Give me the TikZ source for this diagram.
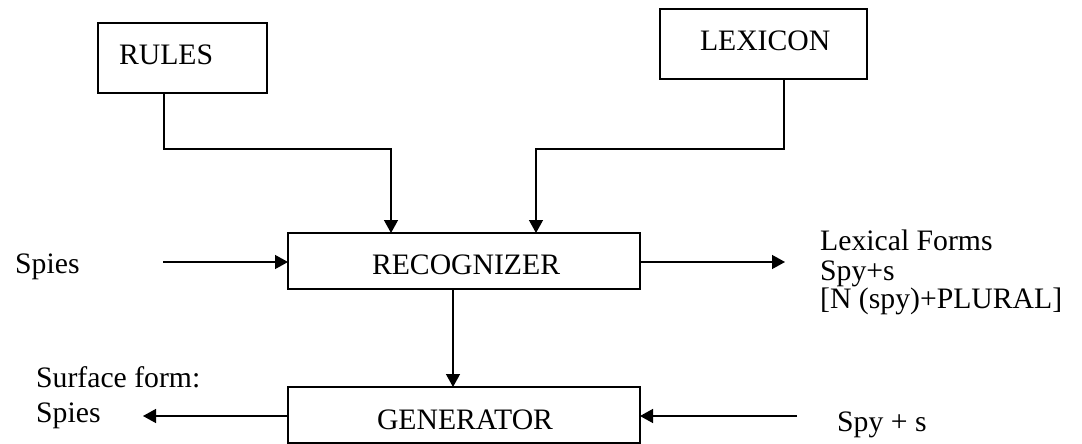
\documentclass[tikz,border=0pt]{standalone}
\usepackage{fontspec}
\setmainfont{Liberation Serif}
\usetikzlibrary{arrows.meta}
% keep baselines at exactly the chosen spacing
\lineskiplimit=-100pt
\begin{document}
\begin{tikzpicture}[x=1pt,y=-1pt,
  blk/.style={draw, line width=1.8pt, anchor=north west, outer sep=0pt,
    align=left, inner ysep=0pt, font=\fontsize{29.7}{32}\selectfont},
  lbl/.style={inner sep=0pt, align=left, anchor=base west},
  arr/.style={line width=1.4pt, -{Triangle[length=13pt,width=14pt]}},
]
\useasboundingbox (0,0) rectangle (1082,444);

% processing blocks
\node[blk, minimum width=169pt, minimum height=70pt, inner xsep=21pt,
  text width=127pt, text height=20pt, text depth=6pt] (rules) at (98,23) {RULES};
\node[blk, minimum width=207pt, minimum height=70pt, inner xsep=40pt,
  text width=127pt, text height=20pt, text depth=6pt] (lex) at (660,9) {LEXICON};
\node[blk, minimum width=352pt, minimum height=56pt, inner xsep=84pt,
  text width=184pt, text height=26pt, text depth=0pt] (rec) at (288,233) {RECOGNIZER};
\node[blk, minimum width=352pt, minimum height=56pt, inner xsep=89pt,
  text width=174pt, text height=28pt, text depth=0pt] (gen) at (288,387) {GENERATOR};

% inputs and outputs
\node[lbl, font=\fontsize{29.7}{32}\selectfont] (spiesin) at (15,273) {Spies};
\node[lbl, font=\fontsize{29.7}{27.5}\selectfont] (lexout) at (820,308)
  {Lexical Forms\\[2.5pt]Spy+s\\{}[N (spy)+PLURAL]};
\node[lbl, font=\fontsize{29.7}{35}\selectfont] (surf) at (36,422)
  {Surface form:\\Spies};
\node[lbl, font=\fontsize{29.7}{32}\selectfont] (spyin) at (837,431) {Spy + s};

% free ends of the horizontal arrows
\coordinate (inA) at (163,262);
\coordinate (outA) at (785,262);
\coordinate (outB) at (143,416);
\coordinate (inB) at (797,416);

% connectors
\draw[arr] ([xshift=66pt]rules.south west) -- ++(0,56) -| ([xshift=103pt]rec.north west);
\draw[arr] ([xshift=124pt]lex.south west) -- ++(0,70) -| ([xshift=248pt]rec.north west);
\draw[arr] (inA) -- (inA -| rec.west);
\draw[arr] (outA -| rec.east) -- (outA);
\draw[arr] ([xshift=165pt]rec.south west) -- ([xshift=165pt]gen.north west);
\draw[arr] (outB -| gen.west) -- (outB);
\draw[arr] (inB) -- (inB -| gen.east);
\end{tikzpicture}
\end{document}
